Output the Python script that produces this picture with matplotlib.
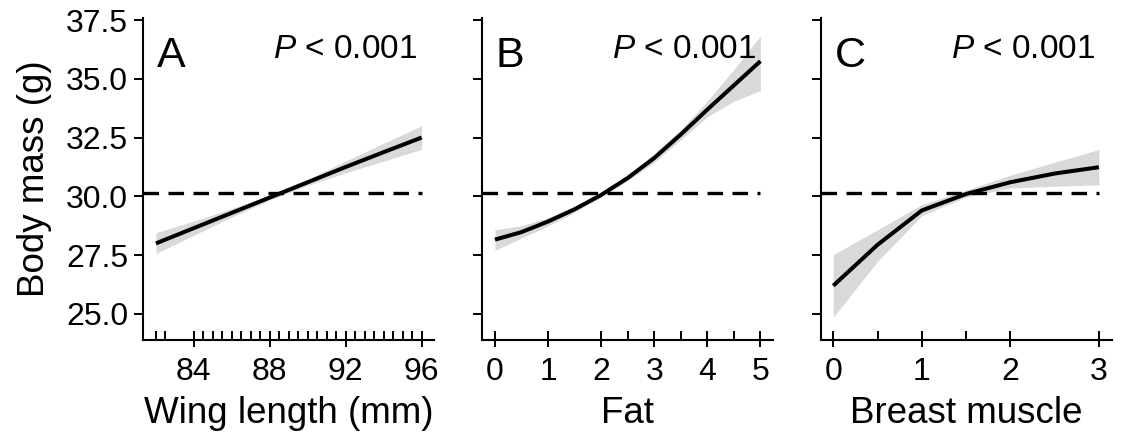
import numpy as np
import matplotlib
matplotlib.use("Agg")
from matplotlib import pyplot as plt

plt.rcParams['font.family'] = ['Liberation Sans', 'DejaVu Sans']
plt.rcParams['mathtext.fontset'] = 'custom'
plt.rcParams['mathtext.it'] = 'Liberation Sans:italic'
plt.rcParams['mathtext.rm'] = 'Liberation Sans'
plt.rcParams['lines.scale_dashes'] = False

# mean body mass (dashed reference line)
mean_mass = 30.14
mass_ticks = [25.0, 27.5, 30.0, 32.5, 35.0, 37.5]

# A: wing length
wing_x = [82, 84, 86, 88, 90, 92, 94, 96]
wing_fit = [28.0, 28.65, 29.3, 29.95, 30.6, 31.25, 31.88, 32.5]
wing_lo = [27.57, 28.35, 29.12, 29.85, 30.47, 31.0, 31.5, 32.0]
wing_hi = [28.45, 28.95, 29.48, 30.05, 30.73, 31.5, 32.26, 33.0]
wing_rug = [82, 82.5, 84, 84.5, 85, 85.5, 86, 86.5, 87, 87.5, 88, 88.5, 89,
            89.5, 90, 90.5, 91, 91.5, 92, 92.5, 93, 93.5, 94, 94.5, 95, 95.5, 96]
wing_ticks = [84, 88, 92, 96]

# B: fat score
fat_x = [0, 0.5, 1, 1.5, 2, 2.5, 3, 3.5, 4, 4.5, 5]
fat_fit = [28.16, 28.48, 28.93, 29.45, 30.06, 30.78, 31.63, 32.63, 33.69, 34.72, 35.75]
fat_lo = [27.7, 28.23, 28.74, 29.32, 29.98, 30.66, 31.45, 32.41, 33.38, 34.05, 34.5]
fat_hi = [28.58, 28.75, 29.1, 29.58, 30.14, 30.9, 31.82, 32.84, 34.05, 35.4, 36.82]
fat_rug = [0, 1, 2, 2.5, 3, 3.5, 4, 4.5, 5]
fat_ticks = [0, 1, 2, 3, 4, 5]

# C: breast muscle score
muscle_x = [0, 0.5, 1, 1.5, 2, 2.5, 3]
muscle_fit = [26.2, 27.94, 29.4, 30.1, 30.6, 30.97, 31.24]
muscle_lo = [24.86, 27.23, 29.18, 29.97, 30.36, 30.43, 30.49]
muscle_hi = [27.52, 28.58, 29.65, 30.26, 30.9, 31.45, 31.99]
muscle_rug = [0, 0.5, 1, 1.5, 2, 3]
muscle_ticks = [0, 1, 2, 3]

panels = [
    ("A", "Wing length (mm)", wing_x, wing_fit, wing_lo, wing_hi, wing_rug, wing_ticks, (81.32, 96.68)),
    ("B", "Fat", fat_x, fat_fit, fat_lo, fat_hi, fat_rug, fat_ticks, (-0.25, 5.24)),
    ("C", "Breast muscle", muscle_x, muscle_fit, muscle_lo, muscle_hi, muscle_rug, muscle_ticks, (-0.142, 3.15)),
]
lefts = [0.1276, 0.4297, 0.7321]

fig = plt.figure(figsize=(11.21, 4.38), dpi=100)

for i, (letter, xlabel, x, fit, lo, hi, rug, ticks, xlim) in enumerate(panels):
    ax = fig.add_axes([lefts[i], 0.2237, 0.2600, 0.7352])
    ax.set_xlim(xlim)
    ax.set_ylim(23.89, 37.585)

    ax.fill_between(x, lo, hi, color='#d9d9d9', lw=0, zorder=1)
    ax.plot([xlim[0], x[-1]], [mean_mass, mean_mass], color='black', lw=2.4,
            dashes=(11.2, 6.8), zorder=2)
    ax.plot(x, fit, color='black', lw=2.9, solid_capstyle='butt', zorder=3)

    # rug of observed values along the x axis
    ax.vlines(rug, 0, 0.027, transform=ax.get_xaxis_transform(),
              color='black', lw=1.4, clip_on=False, zorder=4)

    for side in ['top', 'right']:
        ax.spines[side].set_visible(False)
    for side in ['left', 'bottom']:
        ax.spines[side].set_linewidth(1.5)

    ax.set_xticks(ticks)
    ax.set_xticklabels([str(t) for t in ticks])
    ax.set_yticks(mass_ticks)
    if i == 0:
        ax.set_yticklabels(['%.1f' % t for t in mass_ticks])
        ax.set_ylabel("Body mass (g)", fontsize=26.5, labelpad=10)
    else:
        ax.set_yticklabels([])
    ax.tick_params(axis='y', direction='out', length=6.5, width=1.4, pad=4.3, labelsize=23)
    ax.tick_params(axis='x', direction='out', length=5, width=1.4, pad=7, labelsize=23)
    ax.set_xlabel(xlabel, fontsize=26.5, labelpad=7)

    ax.text(0.048, 0.848, letter, transform=ax.transAxes, fontsize=31,
            ha='left', va='baseline')
    ax.text(0.942, 0.876, r'$\mathit{P}$ < 0.001', transform=ax.transAxes,
            fontsize=24, ha='right', va='baseline')

plt.savefig("out.png", dpi=100)
